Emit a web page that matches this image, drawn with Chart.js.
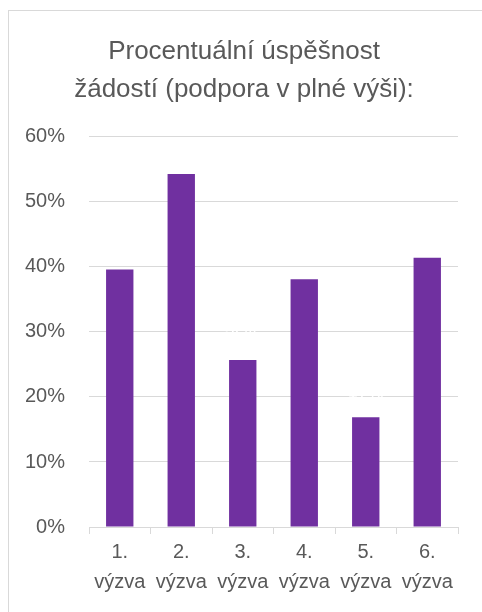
<!DOCTYPE html>
<html>
<head>
<meta charset="utf-8">
<script src="https://cdn.jsdelivr.net/npm/chart.js@4.4.0/dist/chart.umd.min.js"></script>
<style>
  html, body { margin: 0; padding: 0; background: #fff; }
  #frame {
    position: absolute; left: 8px; top: 10px;
    width: 480px; height: 610px;
    border-left: 1px solid #d9d9d9; border-top: 1px solid #d9d9d9;
    box-sizing: border-box;
  }
  #wrap { position: absolute; left: 0; top: 0; width: 473px; height: 600px; }
</style>
</head>
<body>
<div id="frame"><div id="wrap"><canvas id="graph"></canvas></div></div>
<script>
// kategorie (výzvy) a hodnoty úspěšnosti
const categories = [['1.', 'výzva'], ['2.', 'výzva'], ['3.', 'výzva'], ['4.', 'výzva'], ['5.', 'výzva'], ['6.', 'výzva']];
const successRate = [0.396, 0.543, 0.257, 0.381, 0.169, 0.414];
const titleLines = ['Procentuální úspěšnost', 'žádostí (podpora v plné výši):'];

const textColor = '#595959';
const gridColor = '#d9d9d9';
const fontFamily = "'Liberation Sans', Arial, sans-serif";

// titulek je v originale vycentrovany na cely ramecek, ne jen na graf
const shiftTitle = {
  id: 'shiftTitle',
  afterLayout(chart) {
    if (chart.titleBlock) chart.titleBlock.left += 21;
  }
};

// popisky hodnot - v originale bile, takze je videt jen kde prekryji mrizku
const valueLabels = {
  id: 'valueLabels',
  afterDatasetsDraw(chart) {
    const ctx = chart.ctx;
    const meta = chart.getDatasetMeta(0);
    ctx.save();
    ctx.fillStyle = '#ffffff';
    ctx.font = '18px ' + fontFamily;
    ctx.textAlign = 'center';
    ctx.textBaseline = 'middle';
    meta.data.forEach((bar, i) => {
      ctx.fillText(Math.round(successRate[i] * 100) + '%', bar.x, bar.y - 24);
    });
    ctx.restore();
  }
};

new Chart(document.getElementById('graph'), {
  type: 'bar',
  data: {
    labels: categories,
    datasets: [{
      data: successRate,
      backgroundColor: '#7030a0',
      borderWidth: 0,
      barPercentage: 0.445,
      categoryPercentage: 1
    }]
  },
  options: {
    responsive: true,
    maintainAspectRatio: false,
    animation: false,
    layout: { padding: { left: 0, right: 24, top: 22, bottom: 11 } },
    plugins: {
      legend: { display: false },
      tooltip: { enabled: false },
      title: {
        display: true,
        text: titleLines,
        color: textColor,
        font: { family: fontFamily, size: 26, weight: 'normal', lineHeight: 1.46 },
        padding: { top: 0, bottom: 28 }
      }
    },
    scales: {
      y: {
        min: 0,
        max: 0.6,
        afterFit: s => { s.width = 80; },
        ticks: {
          stepSize: 0.1,
          color: textColor,
          font: { family: fontFamily, size: 20 },
          padding: 24,
          callback: v => Math.round(v * 100) + '%'
        },
        grid: { color: gridColor, lineWidth: 1, drawTicks: false },
        border: { display: false }
      },
      x: {
        ticks: {
          color: textColor,
          font: { family: fontFamily, size: 20, lineHeight: 1.5 },
          padding: 3,
          maxRotation: 0
        },
        grid: { color: gridColor, drawOnChartArea: false, drawTicks: true, tickLength: 7, offset: true },
        border: { display: true, color: gridColor }
      }
    }
  },
  plugins: [shiftTitle, valueLabels]
});
</script>
</body>
</html>
